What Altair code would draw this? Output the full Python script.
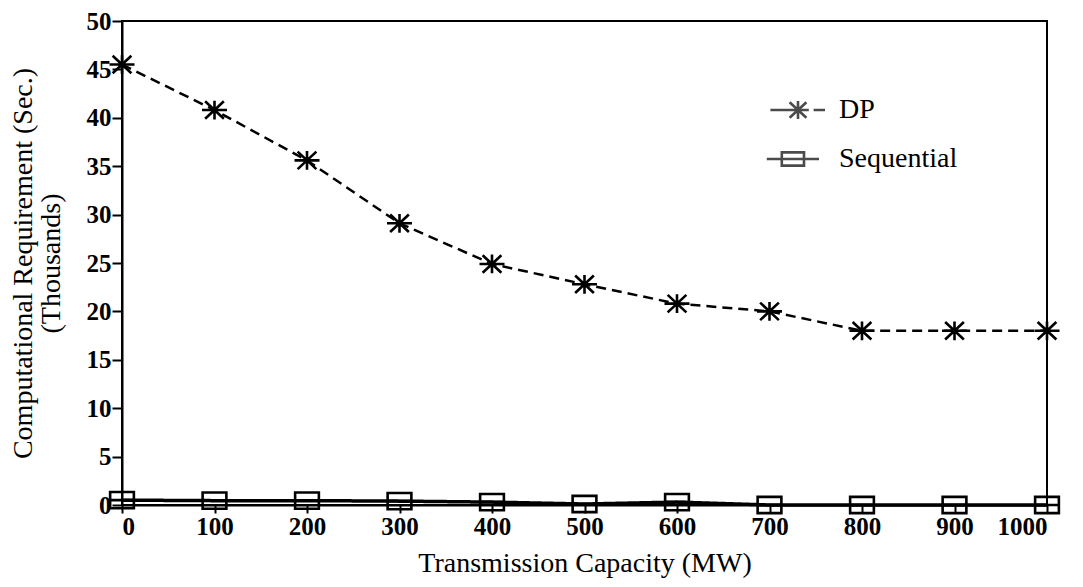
import altair as alt
import pandas as pd

capacity = [0, 100, 200, 300, 400, 500, 600, 700, 800, 900, 1000]
dp_values = [45.5, 40.8, 35.6, 29.1, 24.9, 22.8, 20.8, 20.0, 18.0, 18.0, 18.0]
seq_values = [0.5, 0.45, 0.45, 0.4, 0.3, 0.1, 0.3, 0.0, 0.0, 0.0, 0.0]
series = ["DP", "Sequential"]

df = pd.DataFrame(
    {"cap": capacity * 2,
     "val": dp_values + seq_values,
     "series": ["DP"] * len(capacity) + ["Sequential"] * len(capacity)}
)

FONT = "Liberation Serif"
ASTER = "M-1,0H1 M-0.75,-0.7L0.75,0.7 M-0.75,0.7L0.75,-0.7 M0,-0.75V0.75"
SQUARE = "M-0.95,-0.65H0.95V0.65H-0.95Z M-0.95,0H0.95"
LEG_DP = ("M-2.3,0H-0.9 M1.3,0H2.25 M-0.9,0H0.9 M-0.7,-0.65L0.7,0.65 "
          "M-0.7,0.65L0.7,-0.65 M0,-0.75V0.75")
LEG_SEQ = "M-2.6,0H1.75 M-1.35,-0.55H0.5V0.55H-1.35Z"

x = alt.X("cap:Q", scale=alt.Scale(domain=[0, 1000], nice=False),
          axis=alt.Axis(values=capacity, format="d",
                        title="Transmission Capacity (MW)", grid=False))
y = alt.Y("val:Q", scale=alt.Scale(domain=[0, 50], nice=False),
          axis=alt.Axis(values=list(range(0, 51, 5)), format="d",
                        title=["Computational Requirement (Sec.)", "(Thousands)"],
                        grid=False, titleLineHeight=28))

base = alt.Chart(df)

lines = base.mark_line(color="black").encode(
    x=x, y=y, detail="series:N",
    strokeDash=alt.StrokeDash("series:N", scale=alt.Scale(domain=series, range=[[10, 6], [1, 0]]), legend=None),
    strokeWidth=alt.StrokeWidth("series:N", scale=alt.Scale(domain=series, range=[2.5, 3.5]), legend=None),
)

points = base.mark_point(filled=False, color="black", strokeWidth=2.6, opacity=1).encode(
    x=x, y=y,
    shape=alt.Shape("series:N", scale=alt.Scale(domain=series, range=[ASTER, SQUARE]), legend=None),
    size=alt.Size("series:N", scale=alt.Scale(domain=series, range=[625, 625]), legend=None),
)

legend_layer = base.transform_filter("datum.cap < 0").mark_point(
    filled=False, color="black", strokeWidth=2.6
).encode(
    x=x, y=y,
    shape=alt.Shape(
        "series:N",
        scale=alt.Scale(domain=series, range=[LEG_DP, LEG_SEQ]),
        legend=alt.Legend(
            title=None, orient="none", legendX=662, legendY=75, padding=0,
            symbolSize=576, symbolStrokeColor="black", symbolFillColor="transparent",
            symbolStrokeWidth=2.6, labelFont=FONT, labelFontSize=28, labelColor="black",
            labelOffset=27, rowPadding=20, labelFontWeight="normal",
        ),
    ),
)

chart = alt.layer(lines, points, legend_layer).resolve_scale(
    shape="independent", size="independent"
).properties(
    width=925, height=484,
    autosize="none",
    padding={"left": 122, "top": 21, "right": 36, "bottom": 82},
).configure_view(
    stroke="black", strokeWidth=2
).configure_axis(
    domainColor="black", domainWidth=2, tickColor="black", tickWidth=2, tickSize=10,
    labelFont=FONT, labelFontSize=25, labelColor="black", labelFontWeight="bold",
    titleFont=FONT, titleFontSize=28, titleColor="black", titleFontWeight="normal",
    labelPadding=1,
).configure_axisY(
    titlePadding=21,
).configure_axisX(
    titlePadding=10, tickSize=8,
)

chart.save("out.html", embed_options={"renderer": "svg", "actions": False})
